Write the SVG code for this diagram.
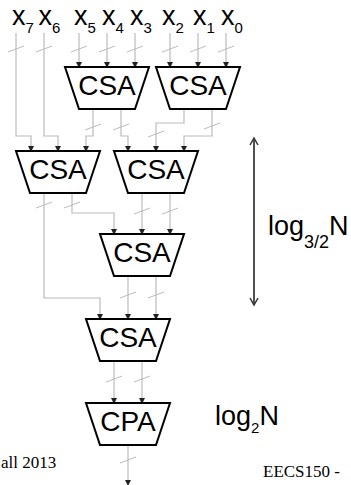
<svg xmlns="http://www.w3.org/2000/svg" width="351" height="485" viewBox="0 0 351 485">
<style>
.blk{fill:#fff;stroke:#000;stroke-width:2;stroke-linejoin:miter}
.lbl{font-family:"Liberation Sans",Arial,sans-serif;font-size:28px;fill:#000;text-anchor:middle}
.in{font-family:"Liberation Sans",Arial,sans-serif;font-size:27px;fill:#000}
.sub{font-size:15px}
.w{fill:none;stroke:#bbb;stroke-width:1.2}
.sl{fill:none;stroke:#bbb;stroke-width:1}
.ft{font-family:"Liberation Serif","Times New Roman",serif;font-size:17px;fill:#000}
.big{fill:none;stroke:#444;stroke-width:1.5}
</style>
<defs>
<marker id="ah" markerWidth="6" markerHeight="6" refX="5" refY="3" orient="auto" markerUnits="userSpaceOnUse">
<path d="M0,0 L6,3 L0,6 z" fill="#222"/>
</marker>
<marker id="oa" markerWidth="10" markerHeight="10" refX="8" refY="5" orient="auto" markerUnits="userSpaceOnUse">
<path d="M1,1 L8,5 L1,9" fill="none" stroke="#333" stroke-width="1.5"/>
</marker>
</defs>

<g id="inputs">
<text class="in" x="12" y="25">x<tspan class="sub" y="33">7</tspan></text>
<text class="in" x="38.5" y="25">x<tspan class="sub" y="33">6</tspan></text>
<text class="in" x="74" y="25">x<tspan class="sub" y="33">5</tspan></text>
<text class="in" x="102" y="25">x<tspan class="sub" y="33">4</tspan></text>
<text class="in" x="130" y="25">x<tspan class="sub" y="33">3</tspan></text>
<text class="in" x="162" y="25">x<tspan class="sub" y="33">2</tspan></text>
<text class="in" x="193" y="25">x<tspan class="sub" y="33">1</tspan></text>
<text class="in" x="221" y="25">x<tspan class="sub" y="33">0</tspan></text>
</g>

<g id="connectors">
<path class="w" d="M16,33 V136 H31 V151" marker-end="url(#ah)"/>
<path class="w" d="M44,33 V136 H58 V151" marker-end="url(#ah)"/>
<path class="w" d="M79,33 V67" marker-end="url(#ah)"/>
<path class="w" d="M107,33 V67" marker-end="url(#ah)"/>
<path class="w" d="M135,33 V67" marker-end="url(#ah)"/>
<path class="w" d="M170,33 V67" marker-end="url(#ah)"/>
<path class="w" d="M198,33 V67" marker-end="url(#ah)"/>
<path class="w" d="M226,33 V67" marker-end="url(#ah)"/>
<path class="w" d="M93,109 V136 H86 V151" marker-end="url(#ah)"/>
<path class="w" d="M121,109 V136 H128 V151" marker-end="url(#ah)"/>
<path class="w" d="M184,109 V123 H156 V151" marker-end="url(#ah)"/>
<path class="w" d="M212,109 V136 H184 V151" marker-end="url(#ah)"/>
<path class="w" d="M44,193 V298 H100 V319" marker-end="url(#ah)"/>
<path class="w" d="M72,193 V213 H114 V234" marker-end="url(#ah)"/>
<path class="w" d="M142,193 V234" marker-end="url(#ah)"/>
<path class="w" d="M170,193 V234" marker-end="url(#ah)"/>
<path class="w" d="M128,276 V319" marker-end="url(#ah)"/>
<path class="w" d="M156,276 V319" marker-end="url(#ah)"/>
<path class="w" d="M114,361 V403" marker-end="url(#ah)"/>
<path class="w" d="M142,361 V403" marker-end="url(#ah)"/>
<path class="w" d="M128,445 V485" marker-end="url(#ah)"/>
<g class="sl">
<path d="M8,52 L24,46 M36,52 L52,46 M71,52 L87,46 M99,52 L115,46 M127,52 L143,46 M162,52 L178,46 M190,52 L206,46 M218,52 L234,46"/>
<path d="M85,130 L101,124 M113,130 L129,124 M148,137 L164,131 M204,129 L220,123"/>
<path d="M36,208 L52,202 M64,208 L80,202 M134,214 L150,208 M162,214 L178,208"/>
<path d="M120,298 L136,292 M148,298 L164,292"/>
<path d="M106,382 L122,376 M134,382 L150,376 M120,463 L136,457"/>
</g>
</g>

<g id="csa1"><path class="blk" d="M65,67 H149 L135,109 H79 Z"/><text class="lbl" x="107" y="95">CSA</text></g>
<g id="csa2"><path class="blk" d="M156,67 H240 L226,109 H170 Z"/><text class="lbl" x="198" y="95">CSA</text></g>
<g id="csa3"><path class="blk" d="M16,151 H100 L86,193 H30 Z"/><text class="lbl" x="58" y="179">CSA</text></g>
<g id="csa4"><path class="blk" d="M114,151 H198 L184,193 H128 Z"/><text class="lbl" x="156" y="179">CSA</text></g>
<g id="csa5"><path class="blk" d="M100,234 H184 L170,276 H114 Z"/><text class="lbl" x="142" y="262">CSA</text></g>
<g id="csa6"><path class="blk" d="M86,319 H170 L156,361 H100 Z"/><text class="lbl" x="128" y="347">CSA</text></g>
<g id="cpa"><path class="blk" d="M86,403 H170 L156,445 H100 Z"/><text class="lbl" x="128" y="431">CPA</text></g>

<g id="depth">
<path class="big" d="M254,305 V138" marker-end="url(#oa)"/>
<path class="big" d="M254,138 V305" marker-end="url(#oa)"/>
<text class="in" x="268" y="235">log<tspan font-size="18" y="248">3/2</tspan><tspan y="235">N</tspan></text>
<text class="in" x="215" y="425">log<tspan class="sub" y="433">2</tspan><tspan y="425">N</tspan></text>
</g>

<g id="footer">
<text class="ft" x="1" y="468">all 2013</text>
<text class="ft" x="263" y="477">EECS150 -</text>
</g>
</svg>
